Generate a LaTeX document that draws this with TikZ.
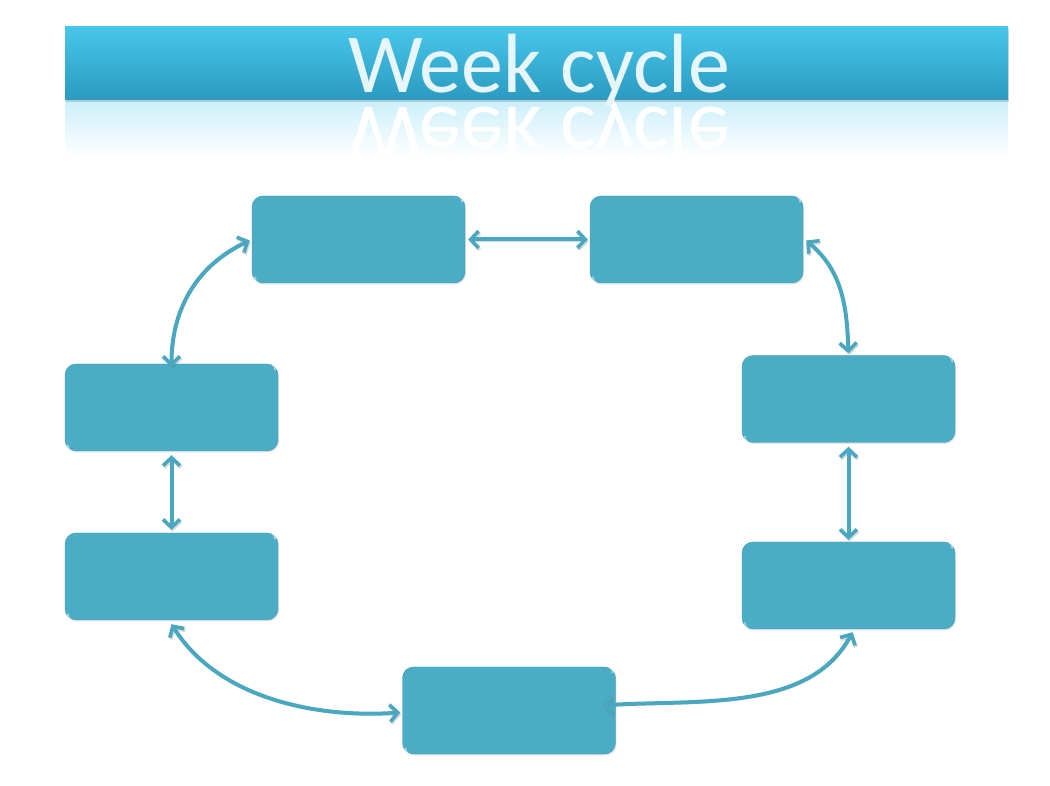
\documentclass[tikz,border=0pt]{standalone}
\usepackage{fontspec}
\newfontfamily\titlefont{Carlito}
\usetikzlibrary{arrows.meta,calc,shadows}
\definecolor{boxc}{HTML}{4BACC6}
\definecolor{arrc}{HTML}{4AA7C0}
\definecolor{bartop}{HTML}{48C6EA}
\definecolor{barbot}{HTML}{2B9AC0}
\definecolor{titletxt}{HTML}{E6F6FB}
\tikzset{
  daybox/.style={rectangle, rounded corners=11pt, minimum width=213pt, minimum height=87pt,
    fill=boxc, draw=boxc!90!black, line width=0.4pt, inner sep=0pt,
    drop shadow={shadow xshift=1pt, shadow yshift=-1.5pt, opacity=0.2}},
  tipx/.tip={Straight Barb[length=8pt,width=17pt,line width=3.6pt]},
  link/.style={draw=arrc, line width=4pt, tipx-tipx,
    preaction={draw=black!60, opacity=0.25, transform canvas={shift={(1pt,-1.8pt)}}}},
  glint/.style={draw=white, opacity=0.45, line width=2pt, line cap=round}
}
\begin{document}
\begin{tikzpicture}[x=1pt,y=1pt]
\useasboundingbox (0,0) rectangle (1050,785);
% title reflection
\shade[top color=bartop!28, bottom color=white] (65,685) rectangle (1008,628);
\node[anchor=base, text=white, inner sep=0pt] (titleref) at (539,677)
  {\titlefont\fontsize{84}{84}\selectfont\scalebox{1}[-1]{Week cycle}};
% title bar
\fill[black, opacity=0.15] (66,683) rectangle (1009,756);
\shade[top color=bartop, bottom color=barbot] (65,685) rectangle (1008,758);
\node[anchor=base, text=titletxt, inner sep=0pt] (title) at (539,692)
  {\titlefont\fontsize{84}{84}\selectfont Week cycle};
% boxes
\node[daybox] (A) at (358.5,545.5) {};
\node[daybox] (B) at (696.5,545.5) {};
\node[daybox] (C) at (848.5,386) {};
\node[daybox] (D) at (848.5,199.5) {};
\node[daybox] (E) at (509,74.5) {};
\node[daybox] (F) at (171.5,208.5) {};
\node[daybox] (G) at (171.5,377.5) {};
\foreach \n in {A,B,C,D,E,F,G}{
  \draw[glint] ($(\n.north east)+(-3,-6)$) arc[start angle=0,end angle=60,radius=7pt];
  \draw[glint] ($(\n.south west)+(3,6)$) arc[start angle=180,end angle=240,radius=7pt];
}
% connectors
\draw[link] ($(A.east)+(3,0)$) -- ($(B.west)+(-2,0)$);
\draw[link] ($(A.west)+(-2,-1)$) to[out=205,in=90] ($(G.north)+(0,-3)$);
\draw[link] ($(B.east)+(3,-1)$) to[out=-40,in=92] ($(C.north)+(0,2)$);
\draw[link] ($(C.south)+(0,-4)$) -- ($(D.north)+(0,2)$);
\draw[link] ($(G.south)+(0,-4)$) -- ($(F.north)+(0,3)$);
\draw[link] ($(F.south)+(0,-4)$) to[out=-58,in=184,looseness=0.9] ($(E.west)+(-2,-2)$);
\draw[link] ($(E.east)+(-14,5)$) to[out=4,in=-118,looseness=0.9] ($(D.south)+(4,-3)$);
\end{tikzpicture}
\end{document}
